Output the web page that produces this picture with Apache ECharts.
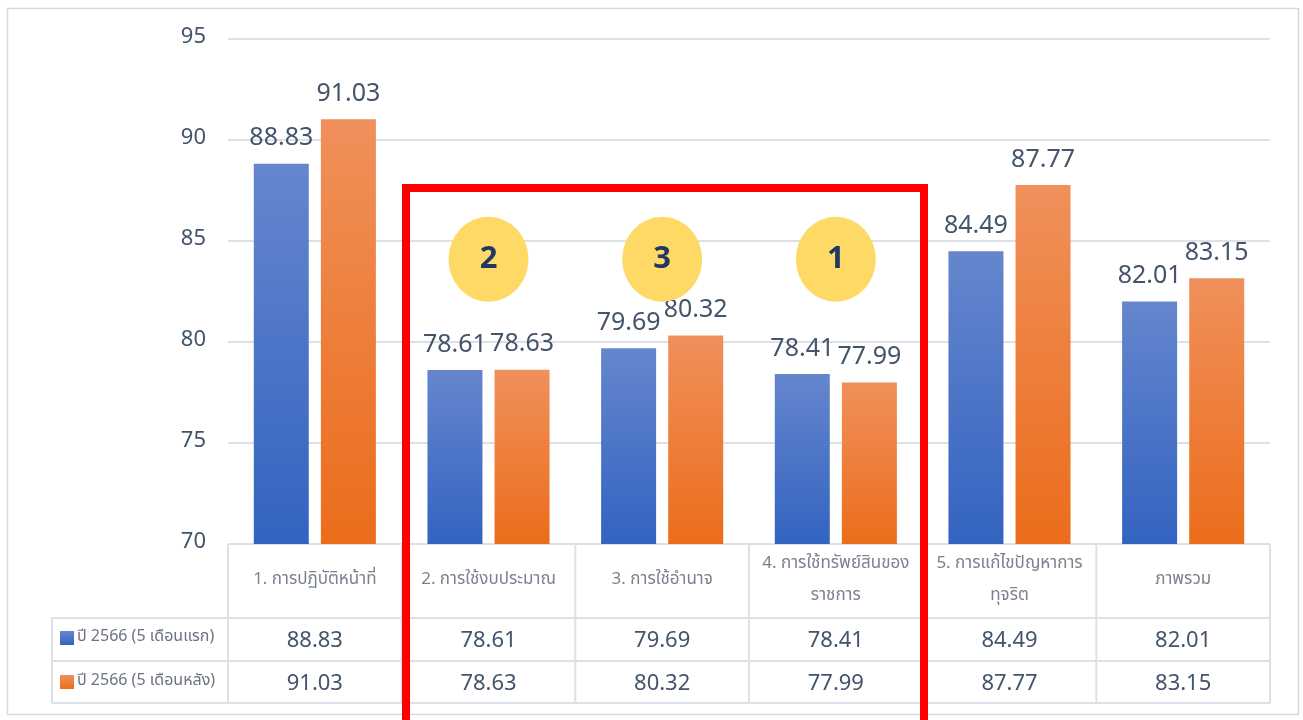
<!DOCTYPE html>
<html>
<head>
<meta charset="utf-8">
<script src="https://cdn.jsdelivr.net/npm/echarts@6/dist/echarts.min.js"></script>
<style>
html,body{margin:0;padding:0;background:#fff;}
#chart{width:1303px;height:720px;}
</style>
</head>
<body>
<div id="chart"></div>
<script>
// ---- data ----
const categories = [
  "1. การปฏิบัติหน้าที่",
  "2. การใช้งบประมาณ",
  "3. การใช้อำนาจ",
  "4. การใช้ทรัพย์สินของ\nราชการ",
  "5. การแก้ไขปัญหาการ\nทุจริต",
  "ภาพรวม"
];
const seriesNames = ["ปี 2566 (5 เดือนแรก)", "ปี 2566 (5 เดือนหลัง)"];
const firstHalf = [88.83, 78.61, 79.69, 78.41, 84.49, 82.01];
const secondHalf = [91.03, 78.63, 80.32, 77.99, 87.77, 83.15];
const ranks = [null, 2, 3, 1, null, null];
const yTicks = [70, 75, 80, 85, 90, 95];

// ---- layout ----
const W = 1303, H = 720;
const gLeft = 228, gRight = 1270, gTop = 39, gBottom = 544;
const row1 = 618, row2 = 661, row3 = 703, legendLeft = 52;
const FONT = "'Noto Sans Thai','Noto Sans','Open Sans',sans-serif";
const lineColor = '#DDE1E7';
const textDark = '#44546A';

const chart = echarts.init(document.getElementById('chart'), null, {renderer: 'canvas'});

const blueGrad = new echarts.graphic.LinearGradient(0, 0, 0, 1, [
  {offset: 0, color: '#6586CD'}, {offset: 1, color: '#3363C1'}]);
const orangeGrad = new echarts.graphic.LinearGradient(0, 0, 0, 1, [
  {offset: 0, color: '#F0905B'}, {offset: 1, color: '#EB6D1B'}]);

function hiddenAxisBase(extra) {
  return Object.assign({
    type: 'category', data: [], position: 'bottom', gridIndex: 0,
    axisLine: {show: false}, axisTick: {show: false}, splitLine: {show: false}
  }, extra);
}

// table lines
const graphics = [];
function hline(y, x1, x2) {
  graphics.push({type: 'line', silent: true, z: 5,
    shape: {x1: x1, y1: y, x2: x2, y2: y}, style: {stroke: lineColor, lineWidth: 2}});
}
function vline(x, y1, y2) {
  graphics.push({type: 'line', silent: true, z: 5,
    shape: {x1: x, y1: y1, x2: x, y2: y2}, style: {stroke: lineColor, lineWidth: 2}});
}
// outer border
graphics.push({type: 'rect', silent: true, z: 1,
  shape: {x: 7.5, y: 8.5, width: 1291, height: 706}, style: {fill: null, stroke: '#D9D9D9', lineWidth: 1.5}});
hline(row1, legendLeft, gRight);
hline(row2, legendLeft, gRight);
hline(row3, legendLeft, gRight);
vline(legendLeft, row1, row3);
const cw = (gRight - gLeft) / categories.length;
for (let i = 0; i <= categories.length; i++) {
  vline(gLeft + i * cw, gBottom, row3);
}
// red highlight box
graphics.push({type: 'rect', silent: true, z: 100,
  shape: {x: 406, y: 188, width: 518, height: 560},
  style: {fill: null, stroke: '#FF0000', lineWidth: 8}});

const option = {
  animation: false,
  backgroundColor: '#fff',
  textStyle: {fontFamily: FONT},
  grid: {left: gLeft, right: W - gRight, top: gTop, bottom: H - gBottom, containLabel: false},
  legend: {
    orient: 'vertical', left: 55, top: 625, itemWidth: 14, itemHeight: 14, itemGap: 28,
    icon: 'rect', data: seriesNames,
    textStyle: {fontSize: 16, color: '#6B7280', fontFamily: FONT, padding: [0, 0, 0, -2]}
  },
  xAxis: [
    hiddenAxisBase({
      data: categories,
      axisLabel: {interval: 0, margin: 37, verticalAlign: 'middle', lineHeight: 32,
        fontSize: 17, color: '#7A8190', fontFamily: FONT}
    }),
    hiddenAxisBase({
      data: firstHalf.map(v => v.toFixed(2)),
      axisLabel: {interval: 0, margin: 99, verticalAlign: 'middle', fontSize: 22, color: textDark, fontFamily: FONT}
    }),
    hiddenAxisBase({
      data: secondHalf.map(v => v.toFixed(2)),
      axisLabel: {interval: 0, margin: 142, verticalAlign: 'middle', fontSize: 22, color: textDark, fontFamily: FONT}
    })
  ],
  yAxis: {
    type: 'value', min: yTicks[0], max: yTicks[yTicks.length - 1], interval: 5,
    axisLine: {show: false}, axisTick: {show: false},
    axisLabel: {margin: 22, fontSize: 22, color: textDark, fontFamily: FONT, padding: [5, 0, 0, 0]},
    splitLine: {lineStyle: {color: lineColor, width: 2}}
  },
  series: [
    {
      name: seriesNames[0], type: 'bar', xAxisIndex: 0, data: firstHalf,
      barWidth: 55, barGap: '22%',
      itemStyle: {color: blueGrad},
      label: {show: true, position: 'top', distance: 11, fontSize: 25, color: textDark, fontFamily: FONT,
        formatter: p => p.value.toFixed(2)}
    },
    {
      name: seriesNames[1], type: 'bar', xAxisIndex: 0, data: secondHalf,
      barWidth: 55, barGap: '22%',
      itemStyle: {color: orangeGrad},
      label: {show: true, position: 'top', distance: 11, fontSize: 25, color: textDark, fontFamily: FONT,
        formatter: p => p.value.toFixed(2)}
    },
    {
      name: 'rank', type: 'scatter', xAxisIndex: 0, z: 20,
      data: ranks.map(r => r === null ? '-' : 84.1),
      symbol: 'circle', symbolSize: [80, 85],
      itemStyle: {color: '#FFD966', opacity: 1},
      label: {show: true, position: 'inside', fontSize: 31, fontWeight: 'bold', color: '#203864',
        fontFamily: "'Open Sans','Noto Sans',sans-serif",
        formatter: p => String(ranks[p.dataIndex])}
    }
  ],
  graphic: graphics
};
chart.setOption(option);
</script>
</body>
</html>
